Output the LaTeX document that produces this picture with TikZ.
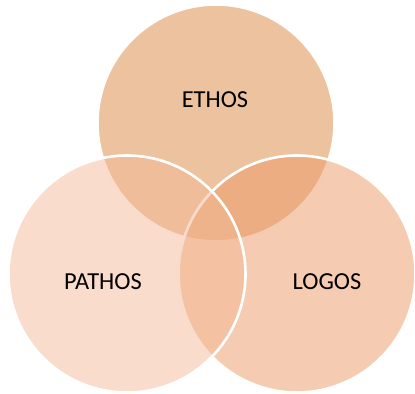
\documentclass[tikz,border=0pt]{standalone}
\usepackage{fontspec}
\setmainfont{Carlito}
\definecolor{ctop}{RGB}{219,133,63}
\definecolor{cright}{RGB}{235,153,99}
\definecolor{cleft}{RGB}{243,185,151}
\begin{document}
\begin{tikzpicture}[x=1bp,y=-1bp,
  venn/.style={draw=white,line width=2.6bp,fill opacity=0.5,draw opacity=1},
  lbl/.style={font=\fontsize{24.5}{28}\selectfont,text=black,inner sep=0pt}]
\useasboundingbox (0,0) rectangle (415,394);
\path[venn,fill=ctop] (216,123) circle[radius=118.5];
\path[venn,fill=cright] (297,274) circle[radius=118.5];
\path[venn,fill=cleft] (127,274) circle[radius=118.5];
\node[lbl] (ethos) at (215,100) {ETHOS};
\node[lbl] (pathos) at (103,282) {PATHOS};
\node[lbl] (logos) at (327,282) {LOGOS};
\end{tikzpicture}
\end{document}
